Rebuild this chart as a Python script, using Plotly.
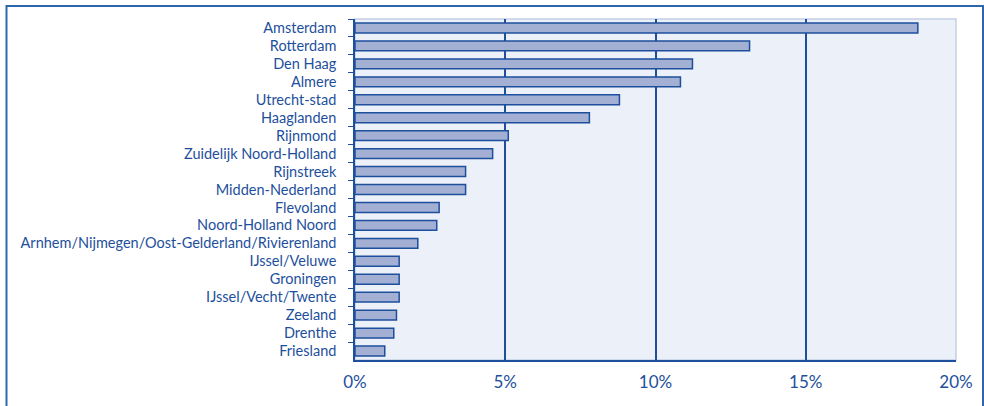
import plotly.graph_objects as go

regions = [
    "Amsterdam", "Rotterdam", "Den Haag", "Almere", "Utrecht-stad", "Haaglanden",
    "Rijnmond", "Zuidelijk Noord-Holland", "Rijnstreek", "Midden-Nederland",
    "Flevoland", "Noord-Holland Noord", "Arnhem/Nijmegen/Oost-Gelderland/Rivierenland",
    "IJssel/Veluwe", "Groningen", "IJssel/Vecht/Twente", "Zeeland", "Drenthe", "Friesland",
]
values = [18.73, 13.13, 11.23, 10.83, 8.8, 7.8, 5.1, 4.58, 3.68, 3.68,
          2.8, 2.72, 2.09, 1.47, 1.47, 1.47, 1.38, 1.29, 0.99]
x_ticks = [0, 5, 10, 15, 20]
x_tick_labels = ["0%", "5%", "10%", "15%", "20%"]

W, H = 984, 406
L, T = 355, 19
R = W - 956
B = H - 360
pw, ph = W - L - R, H - T - B

DARK = "#1d4f9c"
FONT = "Lato"

fig = go.Figure(go.Bar(
    x=values, y=regions, orientation="h",
    marker=dict(color="#a3b0d4", line=dict(color=DARK, width=1.5)),
    hoverinfo="skip",
))

def px_to_paper_x(px):
    return (px - L) / pw

def px_to_paper_y(py):
    return 1 - (py - T) / ph

fig.update_layout(
    width=W, height=H,
    margin=dict(l=L, r=R, t=T, b=B, pad=0),
    paper_bgcolor="white",
    plot_bgcolor="#ecf0f8",
    bargap=0.45,
    showlegend=False,
    font=dict(family=FONT, color=DARK, size=14),
    xaxis=dict(
        range=[0, 20], tickvals=x_ticks, ticktext=x_tick_labels,
        showgrid=True, gridcolor=DARK, gridwidth=1.5,
        showline=True, linecolor=DARK, linewidth=1.5,
        zeroline=False, ticks="inside", ticklen=4, tickcolor=DARK,
        tickfont=dict(size=17, family=FONT, color=DARK),
        ticklabelstandoff=6, fixedrange=True,
    ),
    yaxis=dict(
        autorange="reversed", type="category",
        showline=True, linecolor=DARK, linewidth=1.5,
        ticks="outside", ticklen=5, tickcolor=DARK, tickwidth=1.2,
        tickson="boundaries", showgrid=False,
        tickfont=dict(size=14.5, family=FONT, color=DARK),
        ticklabelstandoff=14, fixedrange=True,
    ),
    shapes=[
        dict(type="rect", xref="paper", yref="paper", x0=0, x1=1, y0=0, y1=1,
             line=dict(color="#c3cfe6", width=1.5), fillcolor="rgba(0,0,0,0)", layer="below"),
        dict(type="rect", xref="paper", yref="paper",
             x0=px_to_paper_x(6.5), x1=px_to_paper_x(983), y0=px_to_paper_y(420), y1=px_to_paper_y(6),
             line=dict(color="#2e66ad", width=2), fillcolor="rgba(0,0,0,0)", layer="above"),
    ],
)

fig.write_html(
    "out.html",
    config={"displayModeBar": False},
    post_script="document.body.style.margin='0';document.body.style.overflow='hidden';",
)
